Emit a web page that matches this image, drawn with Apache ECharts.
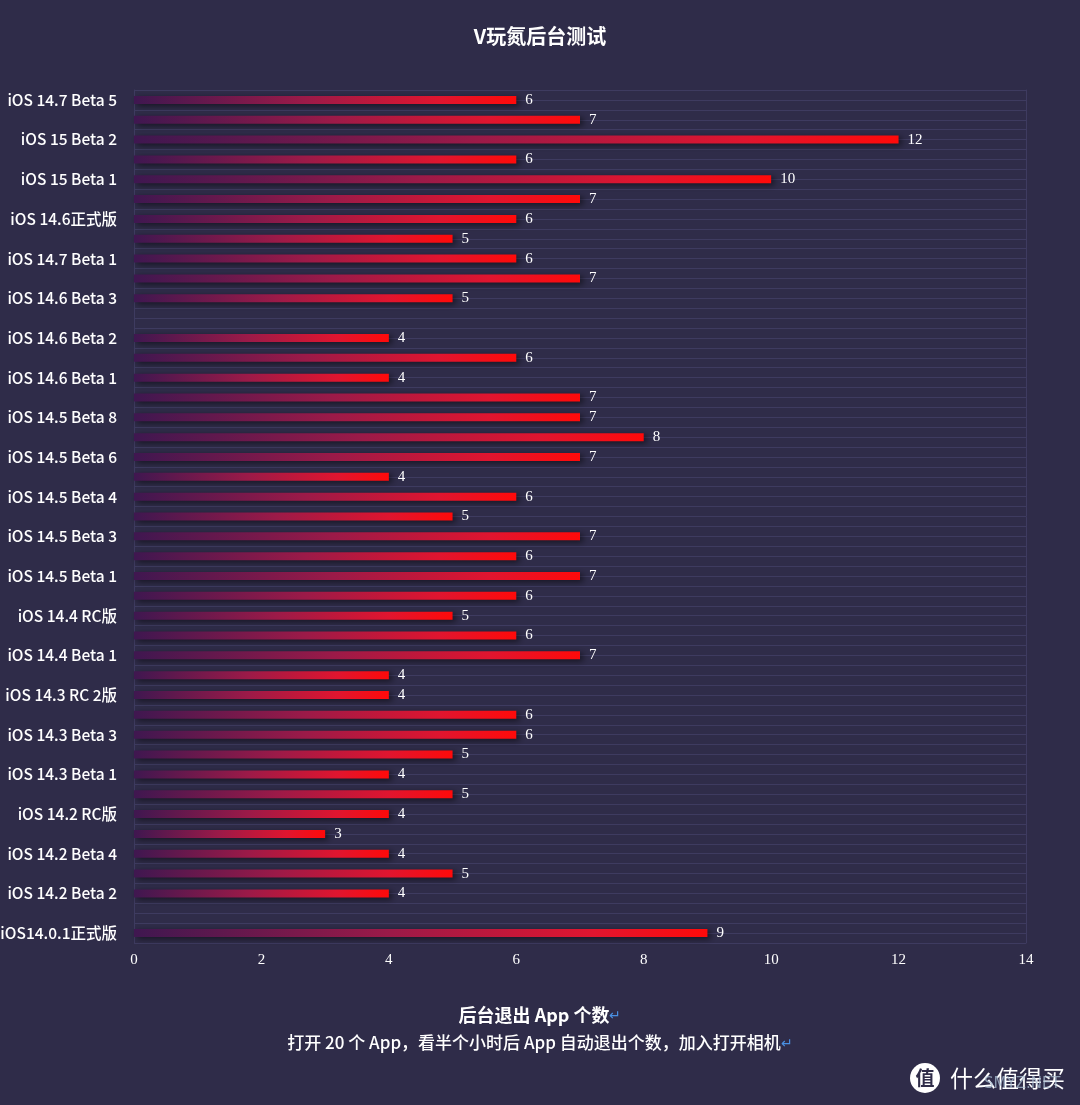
<!DOCTYPE html>
<html><head><meta charset="utf-8">
<script src="https://cdn.jsdelivr.net/npm/echarts@6/dist/echarts.min.js"></script>
<style>html,body{margin:0;padding:0;background:#2f2c49;}#c{width:1080px;height:1105px;}</style>
</head><body><div id="c"></div>
<script>
const categories = [
  'iOS 14.7 Beta 5','', 'iOS 15 Beta 2','', 'iOS 15 Beta 1','', 'iOS 14.6正式版','',
  'iOS 14.7 Beta 1','', 'iOS 14.6 Beta 3','', 'iOS 14.6 Beta 2','', 'iOS 14.6 Beta 1','',
  'iOS 14.5 Beta 8','', 'iOS 14.5 Beta 6','', 'iOS 14.5 Beta 4','', 'iOS 14.5 Beta 3','',
  'iOS 14.5 Beta 1','', 'iOS 14.4 RC版','', 'iOS 14.4 Beta 1','', 'iOS 14.3 RC 2版','',
  'iOS 14.3 Beta 3','', 'iOS 14.3 Beta 1','', 'iOS 14.2 RC版','', 'iOS 14.2 Beta 4','',
  'iOS 14.2 Beta 2','', 'iOS14.0.1正式版'
];
const exitCounts = [
  6,7,12,6,10,7,6,5,6,7,5,null,4,6,4,7,7,8,7,4,6,5,7,6,7,6,5,6,7,4,4,6,6,5,4,5,4,3,4,5,4,null,9
];
const xTicks = { min: 0, max: 14, interval: 2 };
const titleText = 'V玩氮后台测试';
const footLine1 = '后台退出 App 个数';
const footLine2 = '打开 20 个 App，看半个小时后 App 自动退出个数，加入打开相机';

const chart = echarts.init(document.getElementById('c'));
const gridCats = [];
for (let i = 0; i < categories.length * 2; i++) gridCats.push(String(i));
const lineCol = '#3e3b60';

chart.setOption({
  backgroundColor: '#2f2c49',
  animation: false,
  title: {
    text: titleText, left: 'center', top: 21,
    textStyle: { color: '#ffffff', fontSize: 20, fontWeight: 'bold', fontFamily: 'Noto Sans CJK SC' }
  },
  grid: { left: 134, right: 54, top: 90, bottom: 162, containLabel: false, outerBoundsMode: 'none' },
  xAxis: {
    type: 'value', min: xTicks.min, max: xTicks.max, interval: xTicks.interval,
    axisLine: { show: false }, axisTick: { show: false },
    splitLine: { show: false },
    axisLabel: { color: '#ffffff', fontFamily: 'Liberation Serif', fontSize: 15, margin: 10 }
  },
  yAxis: [{
    type: 'category', data: categories, inverse: true,
    axisLine: { show: true, lineStyle: { color: lineCol, width: 1 } },
    axisTick: { show: false },
    splitLine: { show: false },
    axisLabel: { interval: 1, color: '#ffffff', fontSize: 15.5, fontWeight: 500, margin: 17, fontFamily: 'Noto Sans CJK SC' }
  }, {
    type: 'category', data: gridCats, inverse: true, position: 'right',
    axisLine: { show: true, lineStyle: { color: lineCol, width: 1 } },
    axisTick: { show: false }, axisLabel: { show: false, interval: 0 },
    splitLine: { show: true, interval: 0, lineStyle: { color: lineCol, width: 1 } }
  }],
  series: [{
    type: 'bar', yAxisIndex: 0, data: exitCounts, barWidth: 8,
    itemStyle: {
      color: new echarts.graphic.LinearGradient(0, 0, 1, 0, [
        { offset: 0, color: '#3f1750' },
        { offset: 0.45, color: '#9c1a48' },
        { offset: 0.8, color: '#e0152f' },
        { offset: 1, color: '#ff0a0a' }
      ]),
      shadowColor: 'rgba(0,0,0,0.55)', shadowBlur: 6, shadowOffsetX: 3, shadowOffsetY: 2
    },
    label: {
      show: true, position: 'right', distance: 9, color: '#ffffff',
      fontFamily: 'Liberation Serif', fontSize: 15
    }
  }],
  graphic: [
    {
      type: 'text', left: 'center', top: 1006,
      style: {
        text: '{a|' + footLine1 + '}{r|↵}',
        rich: {
          a: { fill: '#ffffff', fontSize: 18, fontWeight: 'bold', fontFamily: 'Noto Sans CJK SC' },
          r: { fill: '#4a90e2', fontSize: 14, fontFamily: 'Noto Sans CJK SC' }
        }
      }
    },
    {
      type: 'text', left: 'center', top: 1034,
      style: {
        text: '{a|' + footLine2 + '}{r|↵}',
        rich: {
          a: { fill: '#ffffff', fontSize: 17, fontWeight: 500, fontFamily: 'Noto Sans CJK SC' },
          r: { fill: '#4a90e2', fontSize: 14, fontFamily: 'Noto Sans CJK SC' }
        }
      }
    },
    { type: 'circle', shape: { cx: 925, cy: 1078, r: 15 }, style: { fill: '#ffffff' } },
    { type: 'text', x: 925, y: 1078, style: { text: '值', fill: '#2f2c49', fontSize: 19, fontWeight: 'bold', align: 'center', verticalAlign: 'middle', fontFamily: 'Noto Sans CJK SC' } },
    { type: 'text', x: 950, y: 1078, style: { text: '什么值得买', fill: '#ffffff', fontSize: 23, verticalAlign: 'middle', fontFamily: 'Noto Sans CJK SC' } },
    { type: 'text', x: 984, y: 1084, style: { text: 'SMYZ.NET', fill: 'rgba(170,190,210,0.75)', fontSize: 15, verticalAlign: 'middle', fontFamily: 'DejaVu Sans' } }
  ]
});
</script></body></html>
